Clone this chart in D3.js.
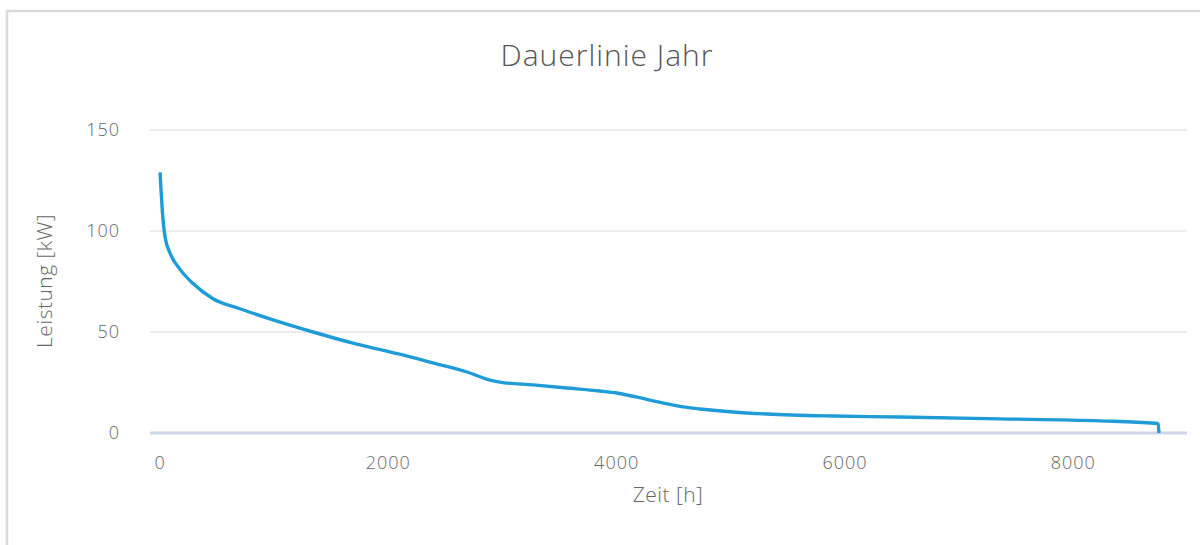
<!DOCTYPE html>
<html>
<head>
	<meta charset="utf-8">
	<script src="https://cdnjs.cloudflare.com/ajax/libs/d3/7.8.5/d3.min.js"></script>
	<style>
		body { margin: 0; background: #fff; }
		text { font-family: "Open Sans", Lato, sans-serif; font-weight: 300; }
	</style>
</head>
<body>
	<svg width="1200" height="545"></svg>
	<script>
		// data: hours of the year vs. power
		let hours = [0, 9, 20, 44, 88, 175, 289, 464, 700, 990, 1340, 1690, 2100, 2390, 2688, 2890, 2977, 3266, 3564, 3853, 4002, 4291, 4580, 4729, 5018, 5315, 5893, 6480, 7356, 8231, 8713, 8745, 8750];
		let power = [129, 120, 110, 97, 89, 81, 74, 66.5, 61.5, 56, 50, 44.5, 39, 34.7, 30.2, 26.2, 25.2, 23.8, 22.3, 20.8, 19.8, 16.3, 12.9, 11.9, 10.4, 9.4, 8.4, 7.9, 7, 6, 4.8, 4.5, 0];
		let xTicks = [0, 2000, 4000, 6000, 8000];
		let yTicks = [0, 50, 100, 150];

		let svg = d3.select("svg");

		// frame edge (top and left only)
		svg.append("line").attr("x1", 6).attr("x2", 1200).attr("y1", 11).attr("y2", 11)
			.attr("stroke", "#d9d9d9").attr("stroke-width", 2.5);
		svg.append("line").attr("x1", 7).attr("x2", 7).attr("y1", 10).attr("y2", 545)
			.attr("stroke", "#d9d9d9").attr("stroke-width", 2.5);

		let plotL = 150, plotR = 1187;
		let x = d3.scaleLinear().domain([-88, 8996]).range([plotL, plotR]);
		let y = d3.scaleLinear().domain([0, 150]).range([433, 130]);

		//gridlines
		svg.append("g")
			.selectAll("line")
			.data(yTicks.filter(d => d > 0))
			.enter()
			.append("line")
			.attr("x1", plotL).attr("x2", plotR)
			.attr("y1", d => y(d)).attr("y2", d => y(d))
			.attr("stroke", "#e6e6e6").attr("stroke-width", 1.5);

		// y labels
		svg.append("g")
			.selectAll("text")
			.data(yTicks)
			.enter()
			.append("text")
			.attr("x", 120)
			.attr("y", d => y(d))
			.attr("dy", "0.35em")
			.attr("text-anchor", "end")
			.attr("fill", "#666")
			.style("font-size", "18px")
			.style("letter-spacing", "1px")
			.text(d => d);

		// x axis line
		svg.append("line")
			.attr("x1", plotL).attr("x2", plotR)
			.attr("y1", y(0)).attr("y2", y(0))
			.attr("stroke", "#ccd6eb").attr("stroke-width", 3);

		// x labels
		svg.append("g")
			.selectAll("text")
			.data(xTicks)
			.enter()
			.append("text")
			.attr("x", d => x(d))
			.attr("y", 469)
			.attr("text-anchor", "middle")
			.attr("fill", "#666")
			.style("font-size", "18px")
			.style("letter-spacing", "1px")
			.text(d => d);

		// the curve
		let line = d3.line()
			.x((d, i) => x(hours[i]))
			.y(d => y(d))
			.curve(d3.curveMonotoneX);
		svg.append("path")
			.datum(power)
			.attr("d", line)
			.attr("fill", "none")
			.attr("stroke", "#1f9bd7")
			.attr("stroke-width", 3.4)
			.attr("stroke-linejoin", "round");

		// titles
		svg.append("text")
			.attr("x", 607).attr("y", 66)
			.attr("text-anchor", "middle")
			.attr("fill", "#555")
			.style("font-size", "30px")
			.style("letter-spacing", "1px")
			.text("Dauerlinie Jahr");
		svg.append("text")
			.attr("x", 668).attr("y", 502)
			.attr("text-anchor", "middle")
			.attr("fill", "#666")
			.style("font-size", "21px")
			.style("letter-spacing", "0.5px")
			.text("Zeit [h]");
		svg.append("text")
			.attr("transform", "translate(52,281) rotate(-90)")
			.attr("text-anchor", "middle")
			.attr("fill", "#666")
			.style("font-size", "21px")
			.style("letter-spacing", "0.5px")
			.text("Leistung [kW]");
	</script>
</body>
</html>
